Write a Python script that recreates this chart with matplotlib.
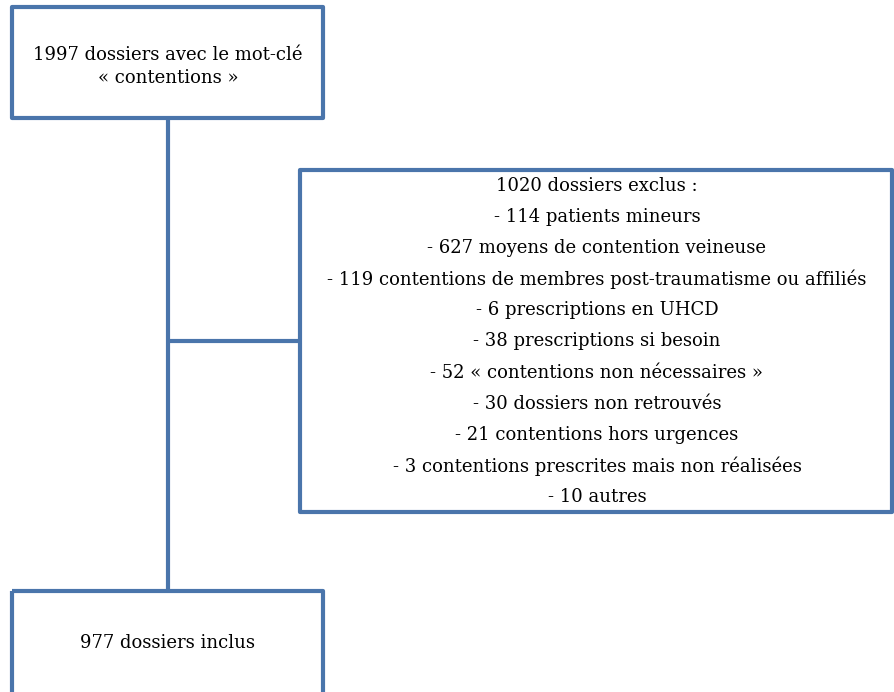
import matplotlib
matplotlib.use("Agg")
import matplotlib.pyplot as plt
from matplotlib.patches import Rectangle

# texts of the flow chart
top_text = ["1997 dossiers avec le mot-clé", "« contentions »"]
excl_title = "1020 dossiers exclus :"
excl_counts = [114, 627, 119, 6, 38, 52, 30, 21, 3, 10]
excl_labels = [
    "patients mineurs",
    "moyens de contention veineuse",
    "contentions de membres post-traumatisme ou affiliés",
    "prescriptions en UHCD",
    "prescriptions si besoin",
    "« contentions non nécessaires »",
    "dossiers non retrouvés",
    "contentions hors urgences",
    "contentions prescrites mais non réalisées",
    "autres",
]
bottom_text = "977 dossiers inclus"

BLUE = "#4a75ab"
LW = 3.0
FONT = "DejaVu Serif"
FS = 13

fig = plt.figure(figsize=(8.95, 6.92), dpi=100)
ax = fig.add_axes([0, 0, 1, 1])
ax.set_xlim(0, 895)
ax.set_ylim(692, 0)
ax.axis("off")

# boxes (x, y, w, h) in pixels
boxes = [(12, 7, 311, 111), (300, 170, 592, 342), (12, 591, 311, 110)]
for x, y, w, h in boxes:
    ax.add_patch(Rectangle((x, y), w, h, fill=False, edgecolor=BLUE,
                           linewidth=LW, joinstyle="round", zorder=2))

# connectors
ax.plot([168, 168], [118, 591], color=BLUE, lw=LW, solid_capstyle="butt")
ax.plot([168, 300], [341, 341], color=BLUE, lw=LW, solid_capstyle="butt")

# top box
ax.text(168, 55, top_text[0], ha="center", va="center", family=FONT, fontsize=FS)
ax.text(168, 78, top_text[1], ha="center", va="center", family=FONT, fontsize=FS)

# exclusions box
lines = [excl_title] + ["- %d %s" % (n, s) for n, s in zip(excl_counts, excl_labels)]
y0, dy = 186, 31.1
for i, s in enumerate(lines):
    ax.text(597, y0 + i * dy, s, ha="center", va="center", family=FONT, fontsize=FS)

# bottom box
ax.text(168, 643, bottom_text, ha="center", va="center", family=FONT, fontsize=FS)

fig.savefig("out.png", dpi=100)
